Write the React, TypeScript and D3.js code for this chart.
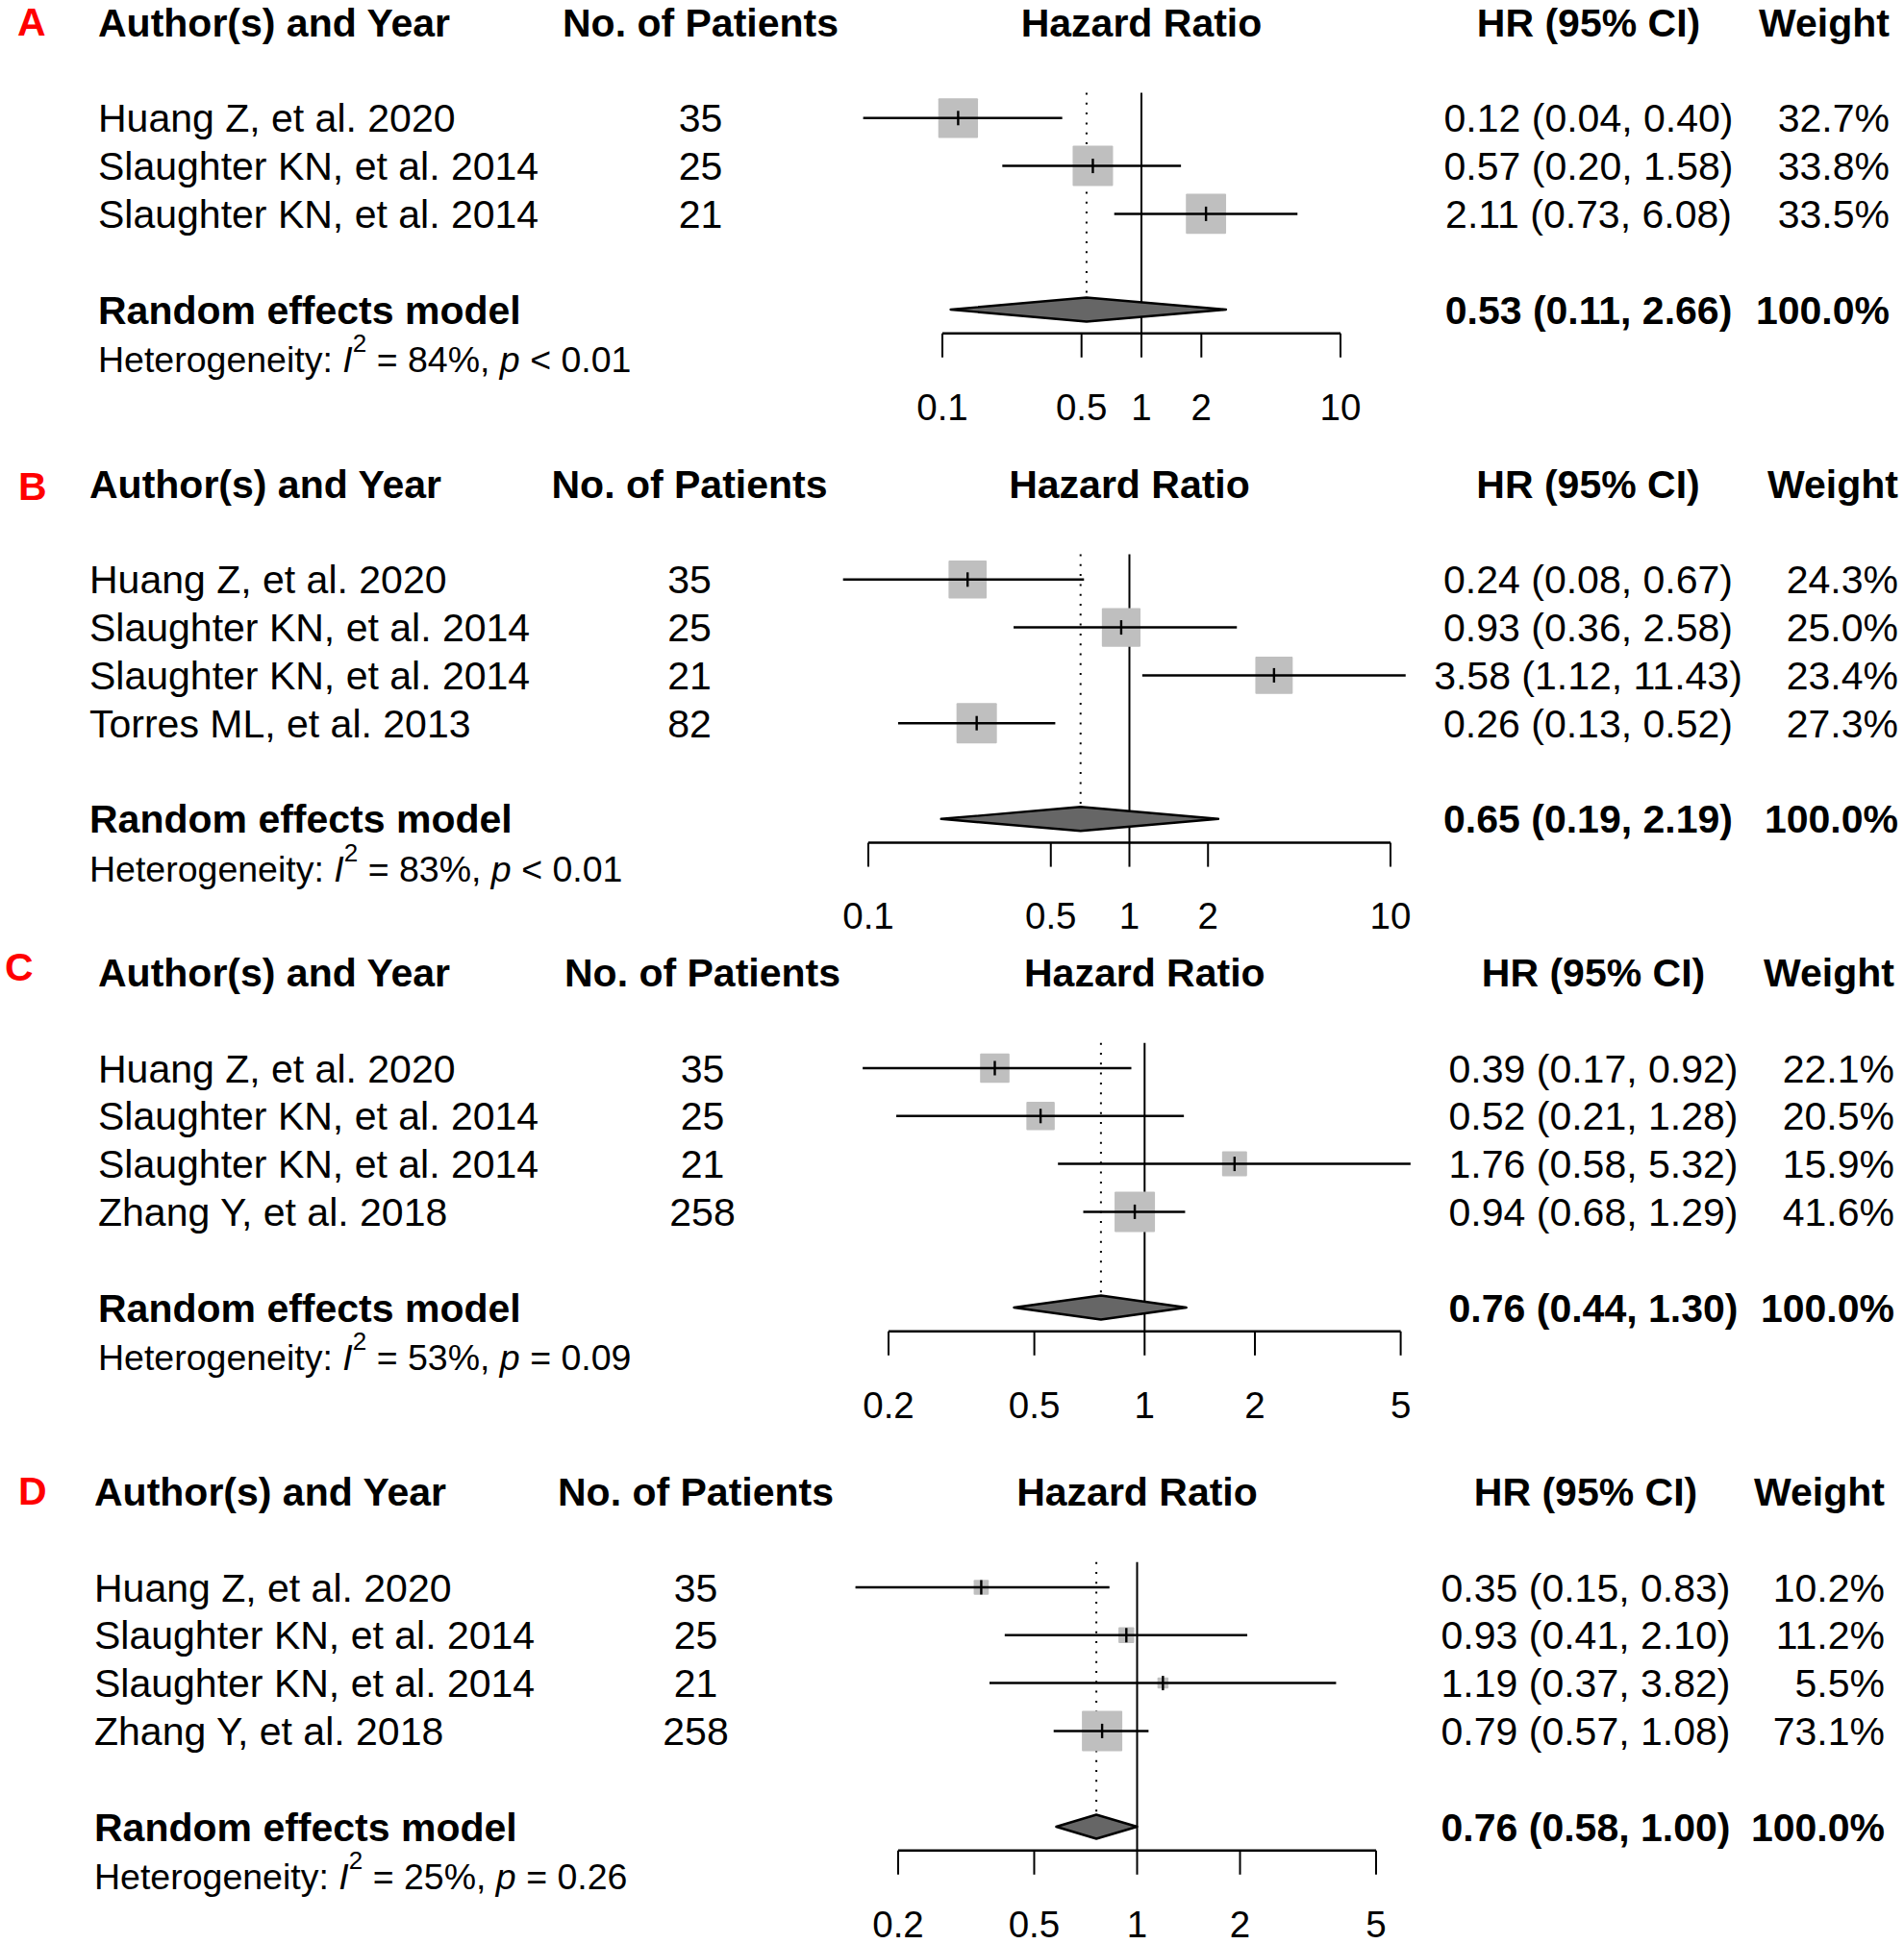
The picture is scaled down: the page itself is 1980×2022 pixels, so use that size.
import React from 'react';
import * as d3 from 'd3';

// ---------- Panel A ----------
const studiesA = ["Huang Z, et al. 2020", "Slaughter KN, et al. 2014", "Slaughter KN, et al. 2014"];
const patientsA = [35, 25, 21];
const hrA = [0.12, 0.57, 2.11];
const lowerA = [0.04, 0.20, 0.73];
const upperA = [0.40, 1.58, 6.08];
const weightA = [32.7, 33.8, 33.5];
const pooledA = [0.53, 0.11, 2.66];
const hetA = ["84%", "<", "0.01"];
const ticksA = [0.1, 0.5, 1, 2, 10];

// ---------- Panel B ----------
const studiesB = ["Huang Z, et al. 2020", "Slaughter KN, et al. 2014", "Slaughter KN, et al. 2014", "Torres ML, et al. 2013"];
const patientsB = [35, 25, 21, 82];
const hrB = [0.24, 0.93, 3.58, 0.26];
const lowerB = [0.08, 0.36, 1.12, 0.13];
const upperB = [0.67, 2.58, 11.43, 0.52];
const weightB = [24.3, 25.0, 23.4, 27.3];
const pooledB = [0.65, 0.19, 2.19];
const hetB = ["83%", "<", "0.01"];
const ticksB = [0.1, 0.5, 1, 2, 10];

// ---------- Panel C ----------
const studiesC = ["Huang Z, et al. 2020", "Slaughter KN, et al. 2014", "Slaughter KN, et al. 2014", "Zhang Y, et al. 2018"];
const patientsC = [35, 25, 21, 258];
const hrC = [0.39, 0.52, 1.76, 0.94];
const lowerC = [0.17, 0.21, 0.58, 0.68];
const upperC = [0.92, 1.28, 5.32, 1.29];
const weightC = [22.1, 20.5, 15.9, 41.6];
const pooledC = [0.76, 0.44, 1.30];
const hetC = ["53%", "=", "0.09"];
const ticksC = [0.2, 0.5, 1, 2, 5];

// ---------- Panel D ----------
const studiesD = ["Huang Z, et al. 2020", "Slaughter KN, et al. 2014", "Slaughter KN, et al. 2014", "Zhang Y, et al. 2018"];
const patientsD = [35, 25, 21, 258];
const hrD = [0.35, 0.93, 1.19, 0.79];
const lowerD = [0.15, 0.41, 0.37, 0.57];
const upperD = [0.83, 2.10, 3.82, 1.08];
const weightD = [10.2, 11.2, 5.5, 73.1];
const pooledD = [0.76, 0.58, 1.00];
const hetD = ["25%", "=", "0.26"];
const ticksD = [0.2, 0.5, 1, 2, 5];

const headers = ["Author(s) and Year", "No. of Patients", "Hazard Ratio", "HR (95% CI)", "Weight"];

const panels = [
  { label: "A", studies: studiesA, n: patientsA, hr: hrA, lo: lowerA, up: upperA, w: weightA, pooled: pooledA, het: hetA, ticks: ticksA },
  { label: "B", studies: studiesB, n: patientsB, hr: hrB, lo: lowerB, up: upperB, w: weightB, pooled: pooledB, het: hetB, ticks: ticksB },
  { label: "C", studies: studiesC, n: patientsC, hr: hrC, lo: lowerC, up: upperC, w: weightC, pooled: pooledC, het: hetC, ticks: ticksC },
  { label: "D", studies: studiesD, n: patientsD, hr: hrD, lo: lowerD, up: upperD, w: weightD, pooled: pooledD, het: hetD, ticks: ticksD },
];

// layout (pixel positions) per panel
const layouts = [
  { labelX: 18, labelY: 22, top: 23.5, authorX: 102, nX: 728.5, hrX: 1652, wX: 1965, range: [980, 1394] },
  { labelX: 19, labelY: 505, top: 503.5, authorX: 93, nX: 717, hrX: 1651.5, wX: 1974, range: [903, 1446] },
  { labelX: 5, labelY: 1005, top: 1011.7, authorX: 102, nX: 730.5, hrX: 1657, wX: 1970, range: [924, 1456.6] },
  { labelX: 19, labelY: 1550, top: 1551.7, authorX: 98, nX: 723.5, hrX: 1649, wX: 1960, range: [934, 1431] },
];

const FONT = "'Liberation Sans', Arial, Helvetica, sans-serif";
const FS = 41;
const ROW = 49.8;
const base = (cy: number, fs: number) => cy + 0.358 * fs;
const fmt = (v: number) => v.toFixed(2);

function Panel({ p, L }: { p: any; L: any }) {
  const ticks: number[] = p.ticks;
  const x = d3.scaleLog().domain([ticks[0], ticks[ticks.length - 1]]).range(L.range);
  const box = d3.scaleSqrt().domain([0, d3.max(p.w as number[]) as number]).range([0, 42]);
  const rowY = (i: number) => L.top + 99.3 + i * ROW;
  const nS = p.studies.length;
  const yRand = rowY(nS + 1);
  const yHet = yRand + 51.5;
  const yAxis = yRand + 24.8;
  const yTickLab = yAxis + 76;
  const lineTop = L.top + 73;
  const dh = 12.5;
  const [pe, plo, pup] = p.pooled;
  const diamond = [
    [x(plo), yRand], [x(pe), yRand - dh], [x(pup), yRand], [x(pe), yRand + dh],
  ].map((d) => d.join(",")).join(" ");
  const hetFs = 37.5;
  return (
    <g fontFamily={FONT}>
      <text x={L.labelX} y={base(L.labelY, FS)} fontSize={FS} fontWeight="bold" fill="#ff0000">{p.label}</text>
      {/* headers */}
      <text x={L.authorX} y={base(L.top, FS)} fontSize={FS} fontWeight="bold">{headers[0]}</text>
      <text x={L.nX} y={base(L.top, FS)} fontSize={FS} fontWeight="bold" textAnchor="middle">{headers[1]}</text>
      <text x={x(1)} y={base(L.top, FS)} fontSize={FS} fontWeight="bold" textAnchor="middle">{headers[2]}</text>
      <text x={L.hrX} y={base(L.top, FS)} fontSize={FS} fontWeight="bold" textAnchor="middle">{headers[3]}</text>
      <text x={L.wX} y={base(L.top, FS)} fontSize={FS} fontWeight="bold" textAnchor="end">{headers[4]}</text>

      {/* reference lines */}
      <line x1={x(1)} x2={x(1)} y1={lineTop} y2={yAxis} stroke="#000" strokeWidth={2} />
      <line x1={x(pe)} x2={x(pe)} y1={lineTop} y2={yRand - dh} stroke="#000" strokeWidth={2} strokeDasharray="2,8.3" />

      {/* studies */}
      {p.studies.map((s: string, i: number) => {
        const y = rowY(i);
        const sz = box(p.w[i]);
        return (
          <g key={i}>
            <text x={L.authorX} y={base(y, FS)} fontSize={FS}>{s}</text>
            <text x={L.nX} y={base(y, FS)} fontSize={FS} textAnchor="middle">{p.n[i]}</text>
            <rect x={x(p.hr[i]) - sz / 2} y={y - sz / 2} width={sz} height={sz} fill="#bfbfbf" rx={1} />
            <line x1={x(p.lo[i])} x2={x(p.up[i])} y1={y} y2={y} stroke="#000" strokeWidth={2.5} />
            <line x1={x(p.hr[i])} x2={x(p.hr[i])} y1={y - 7.5} y2={y + 7.5} stroke="#000" strokeWidth={2.4} />
            <text x={L.hrX} y={base(y, FS)} fontSize={FS} textAnchor="middle">
              {`${fmt(p.hr[i])} (${fmt(p.lo[i])}, ${fmt(p.up[i])})`}
            </text>
            <text x={L.wX} y={base(y, FS)} fontSize={FS} textAnchor="end">{`${p.w[i].toFixed(1)}%`}</text>
          </g>
        );
      })}

      {/* pooled */}
      <text x={L.authorX} y={base(yRand, FS)} fontSize={FS} fontWeight="bold">Random effects model</text>
      <polygon points={diamond} fill="#666666" stroke="#000" strokeWidth={2.4} strokeLinejoin="round" />
      <text x={L.hrX} y={base(yRand, FS)} fontSize={FS} fontWeight="bold" textAnchor="middle">
        {`${fmt(pe)} (${fmt(plo)}, ${fmt(pup)})`}
      </text>
      <text x={L.wX} y={base(yRand, FS)} fontSize={FS} fontWeight="bold" textAnchor="end">100.0%</text>

      {/* heterogeneity */}
      <text x={L.authorX} y={base(yHet, hetFs)} fontSize={hetFs}>
        <tspan>Heterogeneity: </tspan>
        <tspan fontStyle="italic">I</tspan>
        <tspan fontSize={26} dy={-21}>2</tspan>
        <tspan dy={21}>{` = ${p.het[0]}, `}</tspan>
        <tspan fontStyle="italic">p</tspan>
        <tspan>{` ${p.het[1]} ${p.het[2]}`}</tspan>
      </text>

      {/* axis */}
      <line x1={L.range[0]} x2={L.range[1]} y1={yAxis} y2={yAxis} stroke="#000" strokeWidth={2.5} />
      {ticks.map((t) => (
        <g key={t}>
          <line x1={x(t)} x2={x(t)} y1={yAxis} y2={yAxis + 25} stroke="#000" strokeWidth={2} />
          <text x={x(t)} y={base(yTickLab, 38.5)} fontSize={38.5} textAnchor="middle">{String(t)}</text>
        </g>
      ))}
    </g>
  );
}

export default function App() {
  return (
    <svg width={1980} height={2022} viewBox="0 0 1980 2022"
      style={{ position: 'absolute', left: 0, top: 0, display: 'block', background: '#fff' }}>
      <rect x={0} y={0} width={1980} height={2022} fill="#fff" />
      {panels.map((p, i) => <Panel key={p.label} p={p} L={layouts[i]} />)}
    </svg>
  );
}
